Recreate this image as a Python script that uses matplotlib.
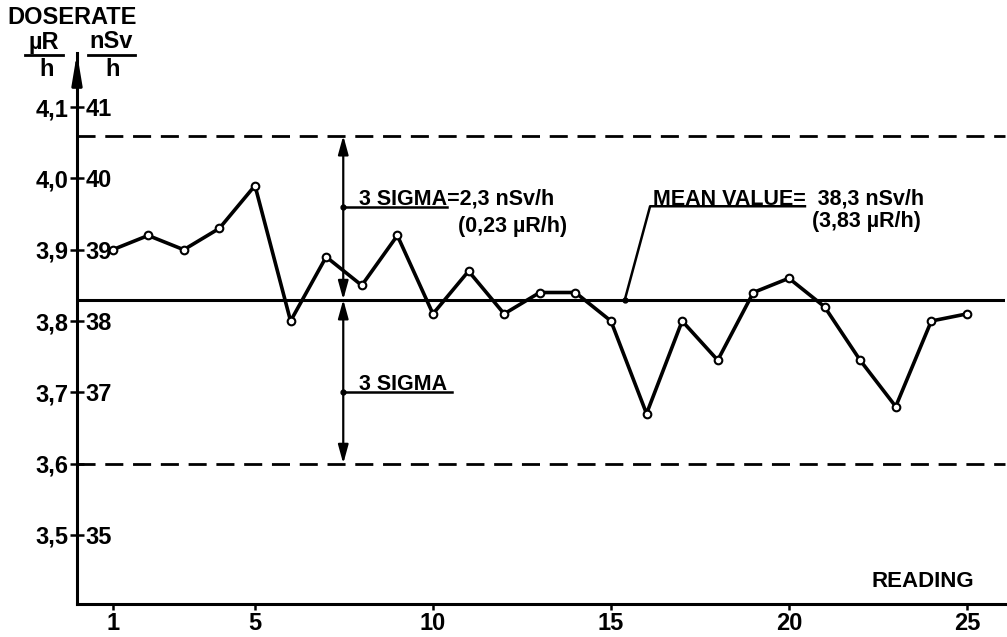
import numpy as np
import matplotlib.pyplot as plt
from matplotlib.lines import Line2D
from matplotlib import transforms

plt.rcParams['font.family'] = ['Liberation Sans', 'DejaVu Sans']
plt.rcParams['font.weight'] = 'bold'
plt.rcParams['font.size'] = 15.5

# readings and dose rate in uR/h (x10 gives nSv/h)
readings = np.arange(1, 26)
dose_uR = [3.90, 3.92, 3.90, 3.93, 3.99, 3.80, 3.89, 3.85, 3.92, 3.81,
           3.87, 3.81, 3.84, 3.84, 3.80, 3.67, 3.80, 3.745, 3.84, 3.86,
           3.82, 3.745, 3.68, 3.80, 3.81]
mean_uR = 3.83
three_sigma_uR = 0.23

y_ticks = [3.5, 3.6, 3.7, 3.8, 3.9, 4.0, 4.1]
y_labels_uR = ["3,5", "3,6", "3,7", "3,8", "3,9", "4,0", "4,1"]
y_labels_nSv = ["35", "", "37", "38", "39", "40", "41"]
x_ticks = [1, 5, 10, 15, 20, 25]

W, H = 1007, 637
TICK_FS = 17
fig = plt.figure(figsize=(W / 100, H / 100), dpi=100)


def fx(px):
    return px / W


def fy(py):
    return 1 - py / H


ax = fig.add_axes([fx(77), fy(604), fx(1005) - fx(77), fy(53) - fy(604)])
ax.set_xlim(0, 26.07)
ax.set_ylim(3.403, 4.176)
for s in ["top", "right"]:
    ax.spines[s].set_visible(False)
for s in ["left", "bottom"]:
    ax.spines[s].set_linewidth(2.2)

ax.set_yticks(y_ticks, y_labels_uR)
ax.tick_params(axis="y", direction="inout", length=10, width=1.8, pad=1,
               labelsize=TICK_FS)
ax.set_xticks(x_ticks)
ax.tick_params(axis="x", direction="out", length=4, width=1.8, pad=2,
               labelsize=TICK_FS)
for lab in ax.get_xticklabels() + ax.get_yticklabels():
    lab.set_fontweight("bold")

blend = transforms.blended_transform_factory(ax.transAxes, ax.transData)
for v, lab in zip(y_ticks, y_labels_nSv):
    ax.annotate(lab, xy=(0, v), xycoords=blend, xytext=(6, 0),
                textcoords="offset points", ha="left", va="center_baseline",
                fontsize=TICK_FS)

# y axis arrow
ax.annotate("", xy=(0, 1), xytext=(0, 0.95), xycoords="axes fraction",
            arrowprops=dict(arrowstyle="-|>,head_length=1.8,head_width=0.3",
                            color="k", lw=2.2, mutation_scale=10,
                            shrinkA=0, shrinkB=0), annotation_clip=False)

upper = mean_uR + three_sigma_uR
lower = mean_uR - three_sigma_uR
dash = (0, (6.5, 3.5))
ax.axhline(mean_uR, color="k", lw=2.2)
ax.axhline(upper, color="k", lw=2, ls=dash, clip_on=False)
ax.axhline(lower, color="k", lw=2, ls=dash, clip_on=False)

ax.plot(readings, dose_uR, color="k", lw=2.6, marker="o", ms=5.5,
        mfc="white", mec="k", mew=1.5, zorder=5)

# 3 sigma arrows
sigma_x = 7.48
for end in [upper, lower]:
    ax.annotate("", xy=(sigma_x, end), xytext=(sigma_x, mean_uR),
                arrowprops=dict(arrowstyle="<|-|>,head_length=0.8,head_width=0.22",
                                color="k", lw=1.6, mutation_scale=14,
                                shrinkA=0, shrinkB=0))

ax.plot([sigma_x, 10.39], [3.96, 3.96], color="k", lw=1.8)
ax.plot([sigma_x], [3.96], "ko", ms=3.5)
ax.text(7.92, 3.963, "3 SIGMA=2,3 nSv/h", ha="left", va="baseline")
ax.text(10.7, 3.933, "(0,23 µR/h)", ha="left", va="center")

ax.plot([sigma_x, 10.53], [3.70, 3.70], color="k", lw=1.8)
ax.plot([sigma_x], [3.70], "ko", ms=3.5)
ax.text(7.92, 3.703, "3 SIGMA", ha="left", va="baseline")

# mean value leader
ax.plot([15.39, 16.1, 20.45], [mean_uR, 3.961, 3.961], color="k", lw=1.8)
ax.plot([15.39], [mean_uR], "ko", ms=3.5)
ax.text(16.18, 3.964, "MEAN VALUE=  38,3 nSv/h", ha="left", va="baseline")
ax.text(20.65, 3.939, "(3,83 µR/h)", ha="left", va="center")

ax.text(25.2, 3.434, "READING", ha="right", va="center", fontsize=16)

# axis title and units
fig.text(fx(7), fy(18), "DOSERATE", ha="left", va="center", fontsize=TICK_FS)
fig.text(fx(44), fy(42), "µR", ha="center", va="center", fontsize=TICK_FS)
fig.text(fx(47), fy(69), "h", ha="center", va="center", fontsize=TICK_FS)
fig.text(fx(111), fy(42), "nSv", ha="center", va="center", fontsize=TICK_FS)
fig.text(fx(113), fy(69), "h", ha="center", va="center", fontsize=TICK_FS)
for x0, x1 in [(25, 63), (88, 135)]:
    fig.add_artist(Line2D([fx(x0), fx(x1)], [fy(55), fy(55)],
                          transform=fig.transFigure, color="k", lw=2))

fig.savefig("out.png", dpi=100)
